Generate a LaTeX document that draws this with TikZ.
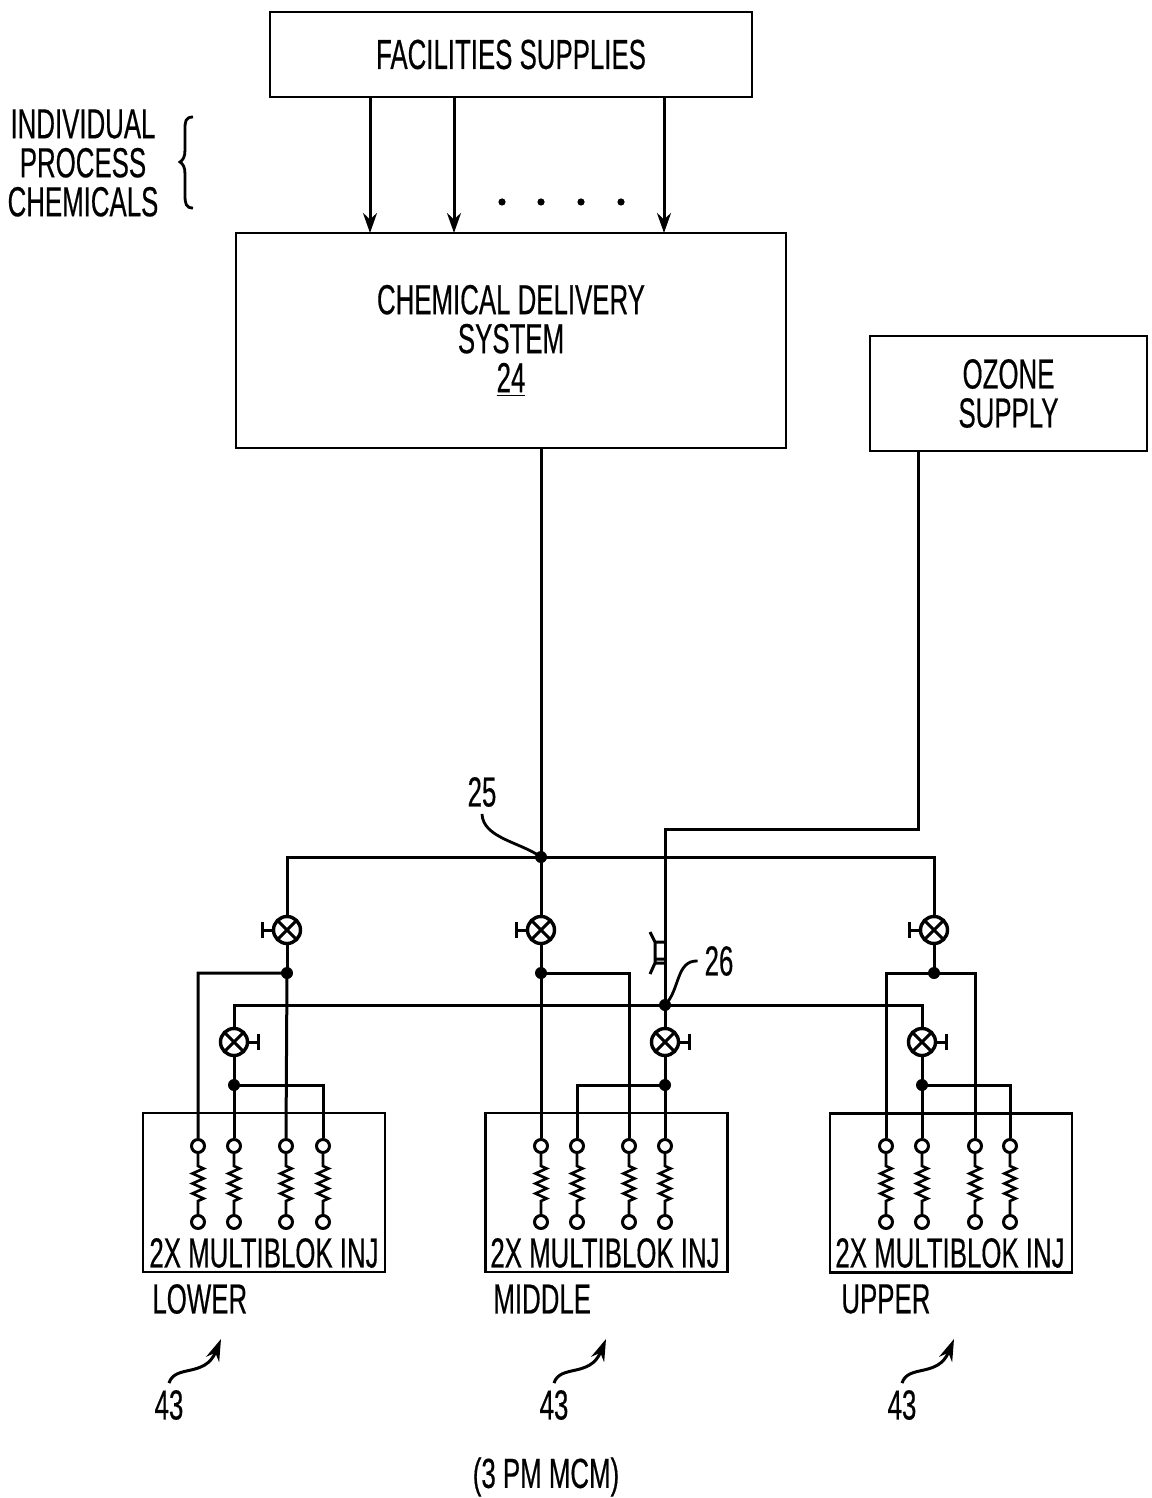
\documentclass[tikz,border=0pt]{standalone}
\usepackage{fontspec}
\setmainfont[FakeStretch=0.615,FakeBold=0.4]{Liberation Sans}
\usetikzlibrary{arrows.meta,decorations.pathmorphing}
\tikzset{
	label font/.style = {font=\fontsize{21}{19.5}\selectfont, align=center},
	unit box/.style = {draw, line width=1.4pt, label font},
	feed/.style = {line width=1.5pt},
	port/.style = {circle, draw, line width=1.5pt, fill=white, inner sep=0pt, minimum size=6.5pt},
	valve/.style = {circle, draw, line width=1.7pt, inner sep=0pt, minimum size=13.5pt,
		path picture={\draw [line width=1.5pt] (path picture bounding box.south west) -- (path picture bounding box.north east)
			(path picture bounding box.north west) -- (path picture bounding box.south east);}},
	coil/.style = {line width=1.3pt, decorate,
		decoration={zigzag, segment length=5pt, amplitude=2.8pt, pre length=6pt, post length=5pt}},
	ref arrow/.style = {line width=1.5pt, -{Stealth[length=11pt,width=7pt]}}
}
\begin{document}
\begin{tikzpicture}[x=0.5pt, y=-0.5pt]

	\useasboundingbox (0,0) rectangle (1151,1498);

	\node [unit box, minimum width=241pt, minimum height=42.5pt] (facilities) at (511,54.5) {FACILITIES SUPPLIES};
	\node [unit box, minimum width=275pt, minimum height=107.5pt] (delivery) at (511,340.5) {CHEMICAL DELIVERY\\SYSTEM\\\underline{24}};
	\node [unit box, minimum width=138.5pt, minimum height=57.5pt] (ozone) at (1008.5,393.5) {OZONE\\SUPPLY};

	\node [label font] (chemicals) at (83,163) {INDIVIDUAL\\PROCESS\\CHEMICALS};
	\draw [line width=1.4pt] (193,117) .. controls (185,117) and (185,122) .. (185,130) -- (185,150)
		.. controls (185,157) and (183,160) .. (180,162) .. controls (183,164) and (185,167) .. (185,174)
		-- (185,195) .. controls (185,204) and (186,208) .. (193,208);

	% supply arrows
	\foreach \name/\x in {first/370, second/454, last/664} {
		\coordinate (\name-from) at (\x,97);
		\coordinate (\name-to) at (\x,233);
		\draw [feed, -{Stealth[length=10pt,width=7pt]}] (\name-from) -- (\name-to);
	}
	\foreach \x in {502,541,581,621} \fill (\x,202) circle (1.8pt);

	% injector blocks
	\foreach \name/\x/\y in {lower/264/1192.5, middle/606.5/1192.5, upper/951/1193} {
		\node [draw, line width=1.4pt, minimum width=121pt, minimum height=79.5pt] (\name-box) at (\x,\y) {};
	}
	\node [label font] (lower-inj) at (264,1253) {2X MULTIBLOK INJ};
	\node [label font] (middle-inj) at (605,1253) {2X MULTIBLOK INJ};
	\node [label font] (upper-inj) at (950,1253) {2X MULTIBLOK INJ};
	\node [label font, anchor=west, inner sep=0pt] (lower-name) at (152,1299) {LOWER};
	\node [label font, anchor=west, inner sep=0pt] (middle-name) at (493,1299) {MIDDLE};
	\node [label font, anchor=west, inner sep=0pt] (upper-name) at (841,1299) {UPPER};

	\foreach \name/\x in {la/198, lb/234, lc/286, ld/323, ma/541, mb/577, mc/629, md/665, ua/886, ub/922, uc/975, ud/1010} {
		\node [port] (\name-top) at (\x,1146) {};
		\node [port] (\name-bot) at (\x,1222) {};
		\draw [coil] (\name-top) -- (\name-bot);
	}

	% valves
	\foreach \name/\x in {vla/287, vma/541, vua/934} {
		\node [valve] (\name) at (\x,930) {};
		\draw [feed] (\name.west) -- ++(-9,0) ++(0,-8) -- ++(0,16);
	}
	\foreach \name/\x in {vlb/234, vmb/665, vub/922} {
		\node [valve] (\name) at (\x,1042) {};
		\draw [feed] (\name.east) -- ++(9,0) ++(0,-8) -- ++(0,16);
	}

	\coordinate (delivery-out) at (541,448);
	\coordinate (ozone-out) at (918,451);
	\coordinate (ozone-in) at (665,829);
	\coordinate (J25) at (541,857);
	\coordinate (J26) at (665,1005);
	\coordinate (JLA) at (287,973);
	\coordinate (JMA) at (541,973);
	\coordinate (JUA) at (934,973);
	\coordinate (JLB) at (234,1085);
	\coordinate (JMB) at (665,1085);
	\coordinate (JUB) at (922,1085);

	% main lines
	\draw [feed] (delivery-out) -- (J25);
	\draw [feed] (ozone-out) |- (ozone-in) -- (J26) -- (vmb.north);
	\draw [feed] (vla.north) |- (J25) -| (vua.north);
	\draw [feed] (J25) -- (vma.north);
	\draw [feed] (vlb.north) |- (J26) -| (vub.north);

	% lower
	\draw [feed] (vla.south) -- (JLA);
	\draw [feed] (la-top.north) |- (JLA) -- (lc-top.north);
	\draw [feed] (vlb.south) -- (JLB) -- (lb-top.north);
	\draw [feed] (JLB) -| (ld-top.north);

	% middle
	\draw [feed] (vma.south) -- (JMA) -- (ma-top.north);
	\draw [feed] (JMA) -| (mc-top.north);
	\draw [feed] (vmb.south) -- (JMB) -- (md-top.north);
	\draw [feed] (JMB) -| (mb-top.north);

	% upper
	\draw [feed] (vua.south) -- (JUA);
	\draw [feed] (ua-top.north) |- (JUA) -| (uc-top.north);
	\draw [feed] (vub.south) -- (JUB) -- (ub-top.north);
	\draw [feed] (JUB) -| (ud-top.north);

	\foreach \point in {J25,J26,JLA,JMA,JUA,JLB,JMB,JUB} \fill (\point) circle (3pt);

	% check valve on the ozone line
	\draw [line width=1.5pt] (665,942) -- (655,942) -- (655,963) -- (665,963)
		(655,959) -- (665,959)
		(650,932) -- (655,942)
		(655,963) -- (650,974);

	\node [label font] (ref25) at (482,792) {25};
	\draw [line width=1.4pt] (ref25.south) .. controls (483,838) and (520,842) .. (J25);
	\node [label font] (ref26) at (719,961) {26};
	\draw [line width=1.4pt] (ref26.west) .. controls (676,960) and (680,990) .. (J26);

	\foreach \name/\x in {lower/169, middle/554, upper/902} {
		\node [label font] (\name-ref) at (\x,1405) {43};
		\coordinate (\name-tip) at ({\x+52},1339);
		\draw [ref arrow] (\name-ref.north) .. controls ({\x+6},1364) and ({\x+36},1378) .. (\name-tip);
	}

	\node [label font] (module) at (546,1477) {(3 PM MCM)};

\end{tikzpicture}
\end{document}
